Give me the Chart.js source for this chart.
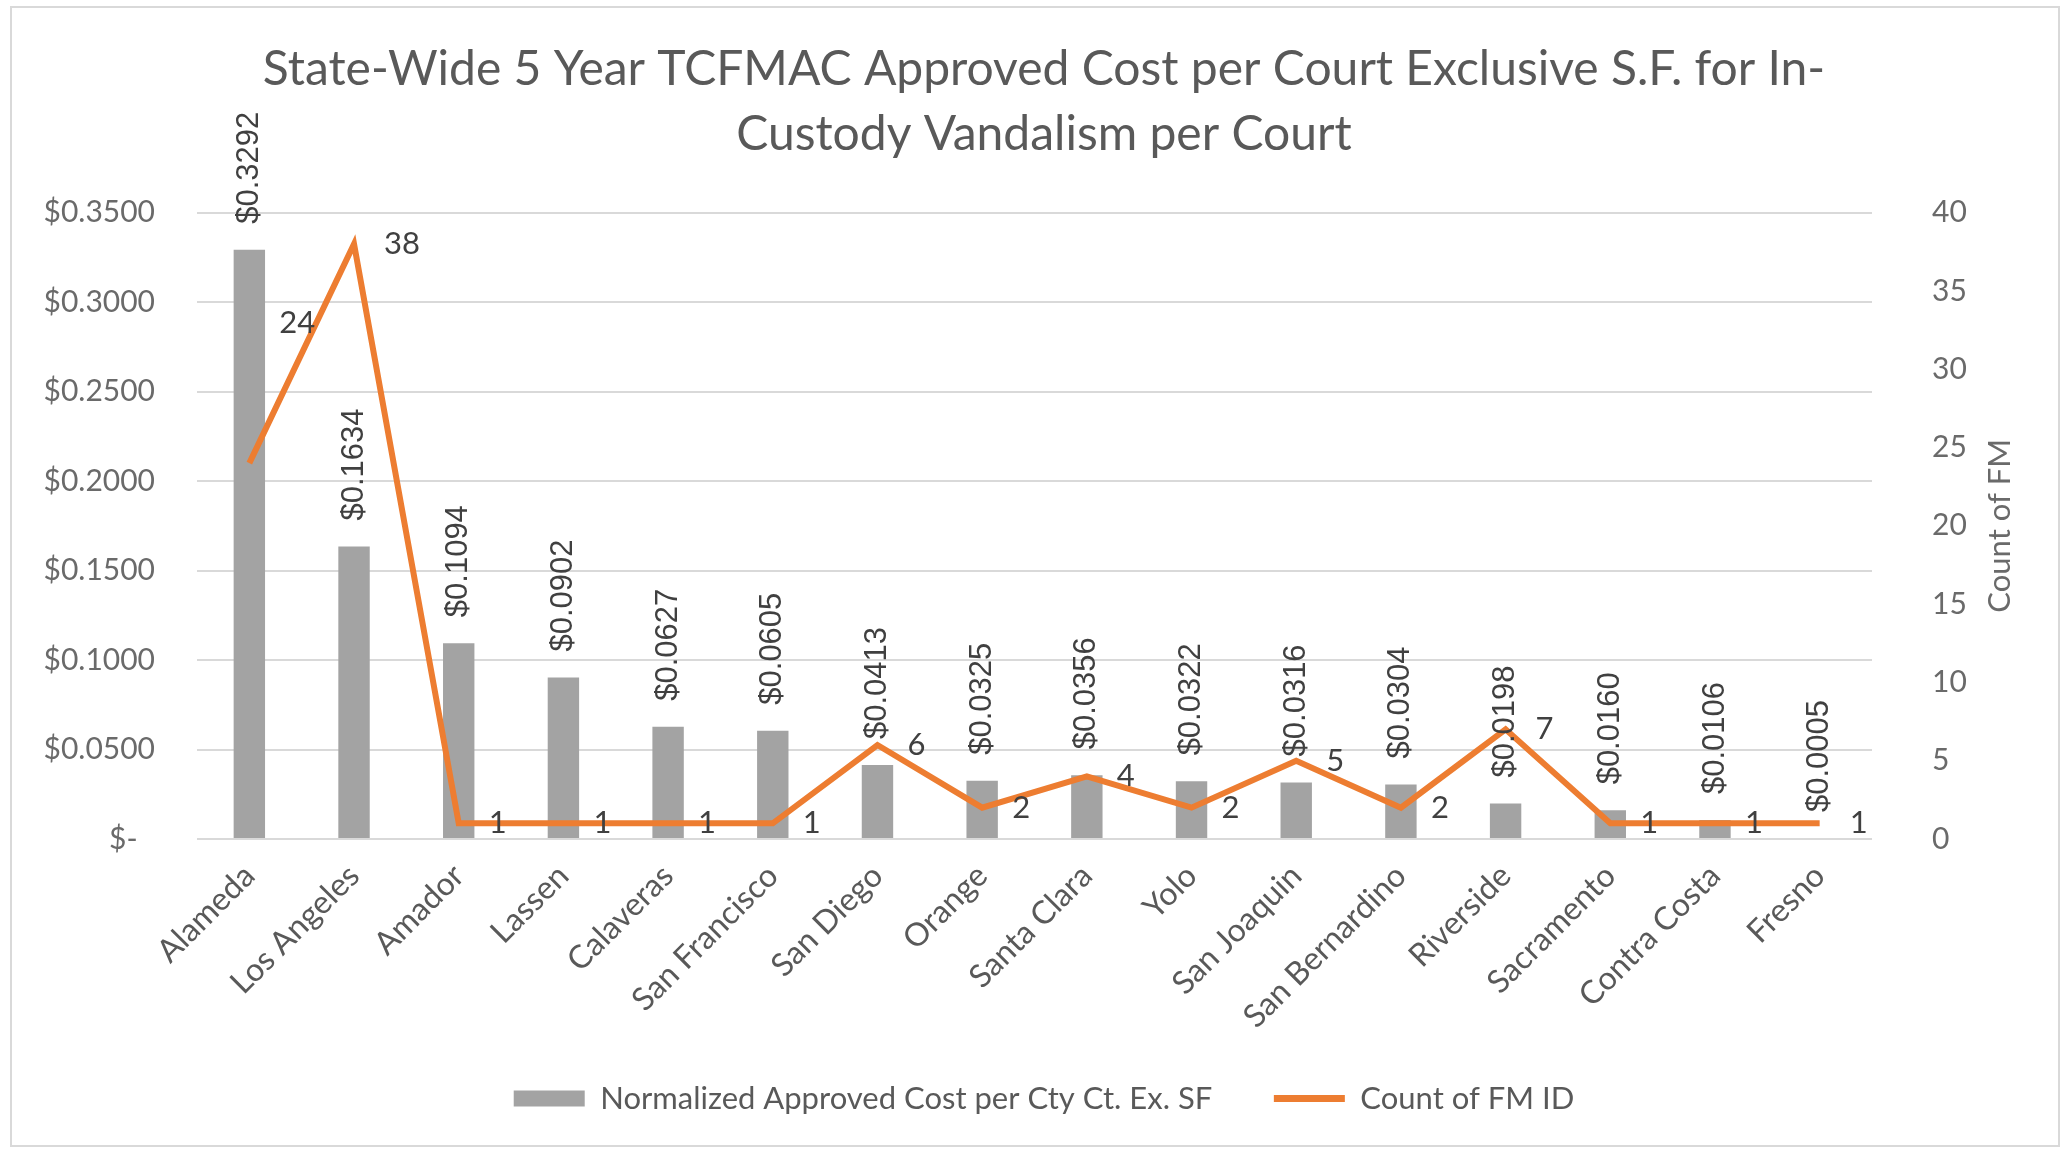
<!DOCTYPE html>
<html>
<head>
<meta charset="utf-8">
<title>In-Custody Vandalism per Court</title>
<script src="https://cdn.jsdelivr.net/npm/chart.js@4.4.1/dist/chart.umd.min.js"></script>
<style>
  html, body { margin: 0; padding: 0; background: #fff; }
  #wrap { position: relative; width: 2064px; height: 1149px; }
  #frame { position: absolute; left: 10px; top: 6px; right: 4px; bottom: 2px; border: 2px solid #d9d9d9; pointer-events: none; }
</style>
</head>
<body>
<div id="wrap">
  <canvas id="chart" width="2064" height="1149"></canvas>
  <div id="frame"></div>
</div>
<script>
// Chart data
const courts = ['Alameda', 'Los Angeles', 'Amador', 'Lassen', 'Calaveras', 'San Francisco', 'San Diego', 'Orange',
    'Santa Clara', 'Yolo', 'San Joaquin', 'San Bernardino', 'Riverside', 'Sacramento', 'Contra Costa', 'Fresno'];
const costPerSF = [0.3292, 0.1634, 0.1094, 0.0902, 0.0627, 0.0605, 0.0413, 0.0325,
    0.0356, 0.0322, 0.0316, 0.0304, 0.0198, 0.0160, 0.0106, 0.0005];
const fmCount = [24, 38, 1, 1, 1, 1, 6, 2, 4, 2, 5, 2, 7, 1, 1, 1];

const barLabel = 'Normalized Approved Cost per Cty Ct. Ex. SF';
const lineLabel = 'Count of FM ID';
const rightTitle = 'Count of FM';

const GREY = '#a3a3a3';
const ORANGE = '#ed7d31';
const TEXT = '#595959';
const TICK = '#6a6a6a';

// Draws value labels and the right axis title (reads bottom to top like Excel)
const labelPlugin = {
    id: 'labels',
    afterDraw(chart) {
        const ctx = chart.ctx;
        ctx.save();

        // rotated cost labels above bars
        ctx.font = '31px "Liberation Sans"';
        ctx.fillStyle = '#404040';
        ctx.textAlign = 'left';
        ctx.textBaseline = 'middle';
        chart.getDatasetMeta(0).data.forEach((bar, i) => {
            ctx.save();
            ctx.translate(bar.x, bar.y - 26);
            ctx.rotate(-Math.PI / 2);
            ctx.fillText('$' + costPerSF[i].toFixed(4), 0, 0);
            ctx.restore();
        });

        // count labels right of points
        ctx.font = '31px Lato';
        chart.getDatasetMeta(1).data.forEach((pt, i) => {
            const nudge = i === 0 ? -140 : 0;
            ctx.fillText(String(fmCount[i]), pt.x + 30, pt.y + nudge);
        });

        // right axis title
        const area = chart.chartArea;
        ctx.font = '31px Lato';
        ctx.fillStyle = TICK;
        ctx.textAlign = 'center';
        ctx.translate(area.right + 128, (area.top + area.bottom) / 2);
        ctx.rotate(-Math.PI / 2);
        ctx.fillText(rightTitle, 0, 0);
        ctx.restore();
    }
};

const ctx = document.getElementById('chart').getContext('2d');

new Chart(ctx, {
    type: 'bar',
    data: {
        labels: courts,
        datasets: [{
            type: 'bar',
            label: barLabel,
            data: costPerSF,
            backgroundColor: GREY,
            barPercentage: 0.3,
            categoryPercentage: 1,
            yAxisID: 'y',
            order: 2
        }, {
            type: 'line',
            label: lineLabel,
            data: fmCount,
            borderColor: ORANGE,
            backgroundColor: ORANGE,
            borderWidth: 6,
            pointRadius: 0,
            tension: 0,
            yAxisID: 'y1',
            order: 1
        }]
    },
    options: {
        responsive: false,
        animation: false,
        layout: {
            padding: { left: 42, right: 18, top: 0, bottom: 25 }
        },
        plugins: {
            title: {
                display: true,
                text: ['State-Wide 5 Year TCFMAC Approved Cost per Court Exclusive S.F. for In-', 'Custody Vandalism per Court'],
                color: TEXT,
                font: { family: 'Lato', size: 48, weight: 'normal', lineHeight: 1.36 },
                padding: { top: 37, bottom: 45 }
            },
            legend: {
                position: 'bottom',
                labels: {
                    color: TEXT,
                    font: { family: 'Lato', size: 31 },
                    usePointStyle: true,
                    pointStyleWidth: 71,
                    boxHeight: 16,
                    padding: 14,
                    generateLabels(chart) {
                        const items = Chart.defaults.plugins.legend.labels.generateLabels(chart)
                            .sort((a, b) => a.datasetIndex - b.datasetIndex);
                        items[0].pointStyle = 'rect';
                        items[0].lineWidth = 0;
                        // trailing spaces widen the gap between the two entries
                        items[0].text += '      ';
                        items[1].pointStyle = 'line';
                        items[1].lineWidth = 7;
                        items[1].strokeStyle = ORANGE;
                        return items;
                    }
                }
            },
            tooltip: { enabled: false }
        },
        scales: {
            x: {
                grid: { display: false },
                border: { display: false },
                ticks: {
                    color: TEXT,
                    font: { family: 'Lato', size: 32 },
                    minRotation: 45,
                    maxRotation: 45,
                    padding: 10
                },
                afterFit(scale) {
                    // rotated labels may hang outside the plot, like in Excel
                    scale.paddingLeft = 0;
                    scale.paddingRight = 0;
                    scale.height = 230;
                }
            },
            y: {
                position: 'left',
                min: 0,
                max: 0.35,
                grid: { color: '#d9d9d9', lineWidth: 2, drawTicks: false },
                border: { display: false },
                ticks: {
                    stepSize: 0.05,
                    color: TICK,
                    padding: 42,
                    font: { family: 'Lato', size: 30 },
                    callback: v => v === 0 ? '$-\u2007' : '$' + v.toFixed(4)
                },
                afterFit(scale) { scale.width = 155; }
            },
            y1: {
                position: 'right',
                min: 0,
                max: 40,
                grid: { display: false, drawTicks: false },
                border: { display: false },
                ticks: {
                    stepSize: 5,
                    color: TICK,
                    padding: 60,
                    font: { family: 'Lato', size: 30 }
                },
                afterFit(scale) { scale.width = 174; }
            }
        }
    },
    plugins: [labelPlugin]
});
</script>
</body>
</html>
